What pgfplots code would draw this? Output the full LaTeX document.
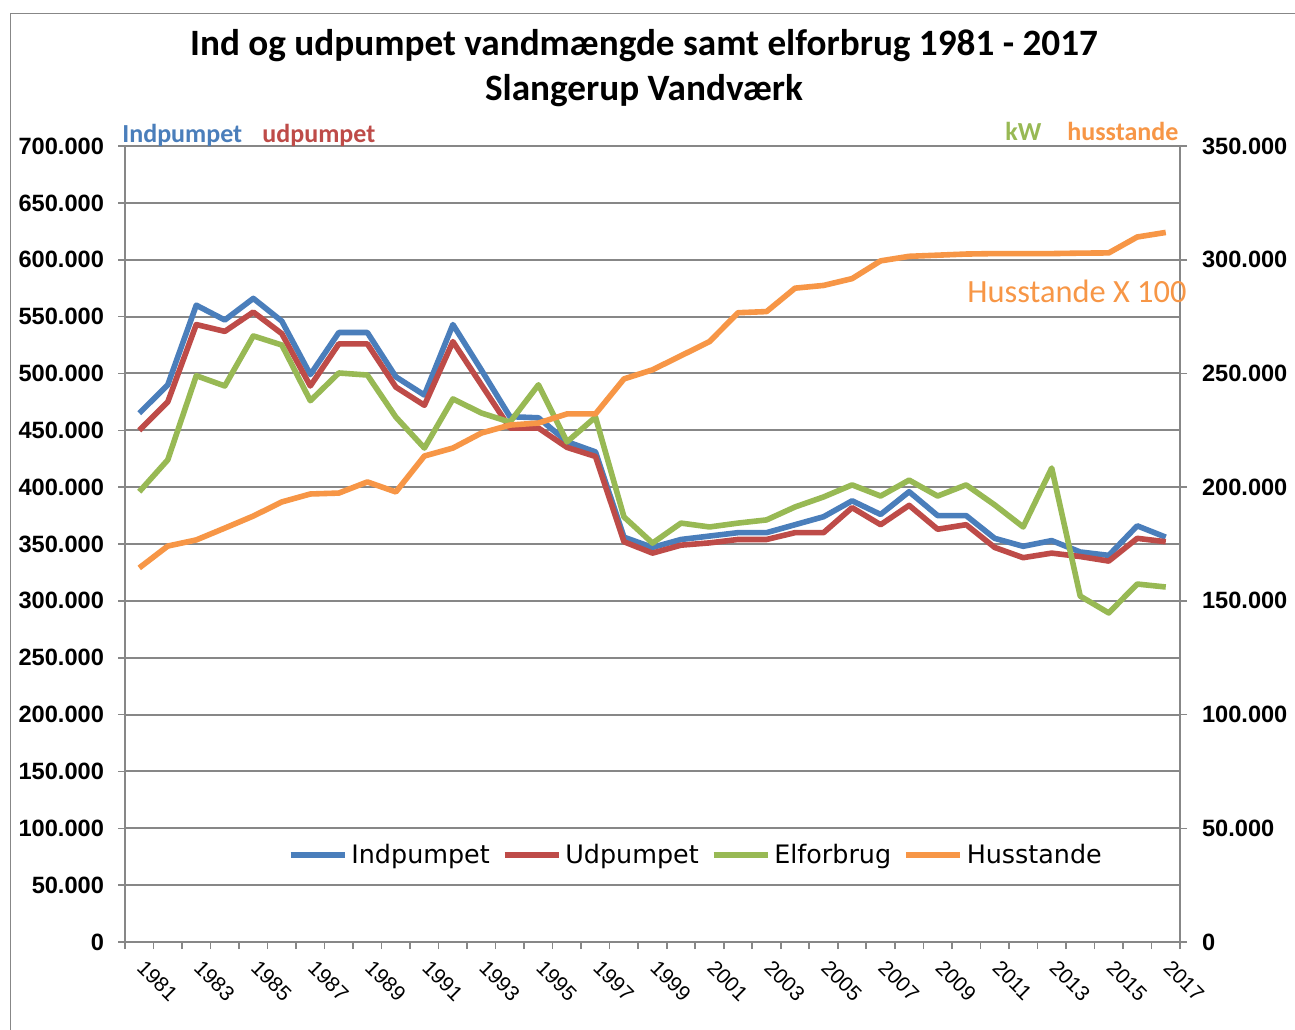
\documentclass[border=0pt]{standalone}
\usepackage{pgfplots}
\pgfplotsset{compat=1.18}
\usepackage{pgfplotstable}
\usepackage{fontspec}
\setmainfont{Carlito}
\newfontfamily\tickfont{Liberation Sans}
\newfontfamily\legfont{DejaVu Sans}
\definecolor{cblue}{HTML}{4A7EBB}
\definecolor{cred}{HTML}{BE4B48}
\definecolor{cgreen}{HTML}{98B954}
\definecolor{corange}{HTML}{F79646}
\definecolor{gridgray}{HTML}{878787}

\pgfplotstableread{
year val
1981 465000
1982 490000
1983 560000
1984 547000
1985 566000
1986 546000
1987 499000
1988 536000
1989 536000
1990 497000
1991 481000
1992 543000
1993 503000
1994 462000
1995 461000
1996 440000
1997 431000
1998 356000
1999 347000
2000 354000
2001 357000
2002 360000
2003 360000
2004 367000
2005 374000
2006 388000
2007 376000
2008 396000
2009 375000
2010 375000
2011 355000
2012 348000
2013 353000
2014 343000
2015 340000
2016 366000
2017 356000
}\indtab

\pgfplotstableread{
year val
1981 450000
1982 475000
1983 543000
1984 537000
1985 554000
1986 535000
1987 489000
1988 526000
1989 526000
1990 488000
1991 472000
1992 528000
1993 490000
1994 452000
1995 452000
1996 435000
1997 427000
1998 352000
1999 342000
2000 349000
2001 351000
2002 354000
2003 354000
2004 360000
2005 360000
2006 382000
2007 367000
2008 384000
2009 363000
2010 367000
2011 347000
2012 338000
2013 342000
2014 339000
2015 335000
2016 355000
2017 352000
}\udtab

\pgfplotstableread{
year val
1981 198000
1982 212000
1983 249000
1984 244500
1985 266500
1986 262500
1987 238000
1988 250200
1989 249300
1990 230800
1991 217200
1992 238800
1993 232600
1994 228600
1995 245000
1996 219900
1997 230800
1998 186900
1999 175400
2000 184200
2001 182500
2002 184200
2003 185600
2004 191300
2005 195700
2006 201000
2007 196100
2008 203100
2009 196100
2010 201000
2011 192200
2012 182500
2013 208400
2014 152100
2015 144700
2016 157400
2017 156100
}\eltab

\pgfplotstableread{
year val
1981 164500
1982 174100
1983 176800
1984 182000
1985 187300
1986 193500
1987 197000
1988 197400
1989 202300
1990 197900
1991 213700
1992 217200
1993 223800
1994 227300
1995 228200
1996 232200
1997 232200
1998 247600
1999 251600
2000 257800
2001 264000
2002 276700
2003 277200
2004 287500
2005 288700
2006 291700
2007 299500
2008 301500
2009 302000
2010 302500
2011 302700
2012 302700
2013 302700
2014 302900
2015 303000
2016 310000
2017 312000
}\hustab

\pgfplotsset{
  common/.style={
    scale only axis,
    width=527.5pt, height=398pt,
    at={(axorig)}, anchor=south west,
    xmin=1980.5, xmax=2017.5,
    tick align=outside,
    major tick length=3.5pt,
    minor tick length=3.5pt,
    axis line style={draw=gridgray, line width=1pt},
    every tick/.style={draw=gridgray, line width=0.8pt},
    scaled y ticks=false,
    yticklabel style={font=\tickfont\bfseries\fontsize{11.8}{12}\selectfont},
  },
  series/.style={line width=2.8pt, line join=round, no markers},
}

\begin{document}
\begin{tikzpicture}[x=0.5pt, y=-0.5pt]
\useasboundingbox (0,0) rectangle (1295,1029);
\fill[white] (0,0) rectangle (1295,1029);
\draw[gridgray, line width=0.75pt] (10.5,1035) -- (10.5,13.5) -- (1300,13.5);
\coordinate (axorig) at (125,942);

\begin{axis}[common,
  axis x line*=bottom, axis y line*=left,
  xtick pos=left, ytick pos=left,
  ymin=0, ymax=700000,
  ytick={0,50000,100000,150000,200000,250000,300000,350000,400000,450000,500000,550000,600000,650000,700000},
  yticklabels={0,50.000,100.000,150.000,200.000,250.000,300.000,350.000,400.000,450.000,500.000,550.000,600.000,650.000,700.000},
  yticklabel style={xshift=-3.5pt},
  ymajorgrids, grid style={draw=gridgray, line width=1pt},
  xtick={1981,1983,1985,1987,1989,1991,1993,1995,1997,1999,2001,2003,2005,2007,2009,2011,2013,2015,2017},
  xticklabels={1981,1983,1985,1987,1989,1991,1993,1995,1997,1999,2001,2003,2005,2007,2009,2011,2013,2015,2017},
  minor xtick={1980.5,1981.5,...,2017.5},
  major x tick style={draw=none},
  xticklabel style={font=\tickfont\fontsize{10.5}{11}\selectfont, xshift=3.5pt, rotate=-45, anchor=north west},
  legend style={at={(0.542,0.109)}, anchor=center, draw=none, fill=none,
    font=\legfont\fontsize{12.7}{14}\selectfont,
    /tikz/every even column/.append style={column sep=4pt}},
  legend columns=4,
  legend image code/.code={\draw[#1] (0pt,0pt) -- (27pt,0pt);},
]
\addplot[series, cblue] table[x=year, y=val] {\indtab};
\addlegendentry{Indpumpet}
\addplot[series, cred] table[x=year, y=val] {\udtab};
\addlegendentry{Udpumpet}
\addlegendimage{series, cgreen}
\addlegendentry{Elforbrug}
\addlegendimage{series, corange}
\addlegendentry{Husstande}
\end{axis}

\begin{axis}[common,
  axis x line=none, axis y line*=right,
  ytick pos=right, yticklabel pos=right,
  ymin=0, ymax=350000,
  ytick={0,50000,100000,150000,200000,250000,300000,350000},
  yticklabels={0,50.000,100.000,150.000,200.000,250.000,300.000,350.000},
  yticklabel style={xshift=4pt},
]
\addplot[series, cgreen] table[x=year, y=val] {\eltab};
\addplot[series, corange] table[x=year, y=val] {\hustab};
\end{axis}

\node[anchor=base, font=\bfseries\fontsize{18.6}{20}\selectfont] at (644,55) {Ind og udpumpet vandmængde samt elforbrug 1981 - 2017};
\node[anchor=base, font=\bfseries\fontsize{18.6}{20}\selectfont] at (644,100) {Slangerup Vandværk};
\node[anchor=base west, inner sep=0pt, text=cblue, font=\bfseries\fontsize{13}{14}\selectfont] at (122,142) {Indpumpet};
\node[anchor=base west, inner sep=0pt, text=cred, font=\bfseries\fontsize{13}{14}\selectfont] at (262,142) {udpumpet};
\node[anchor=base west, inner sep=0pt, text=cgreen, font=\bfseries\fontsize{13}{14}\selectfont] at (1005,140) {kW};
\node[anchor=base west, inner sep=0pt, text=corange, font=\bfseries\fontsize{13}{14}\selectfont] at (1067,140) {husstande};
\node[anchor=base west, inner sep=0pt, text=corange, font=\fontsize{16.2}{18}\selectfont] at (967,302) {Husstande X 100};
\end{tikzpicture}
\end{document}
